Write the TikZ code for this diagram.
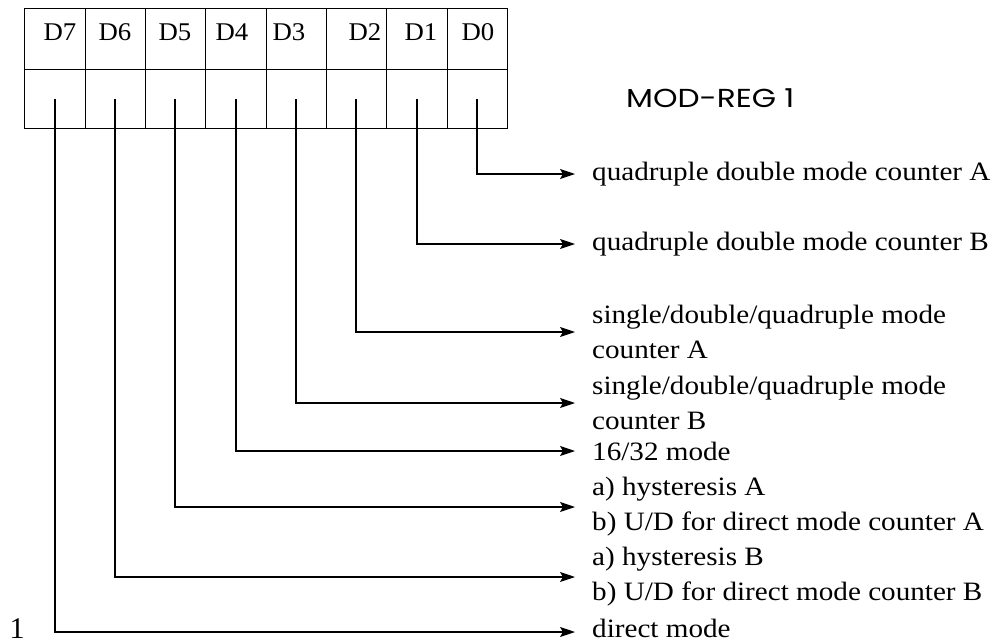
\documentclass[tikz,border=0pt]{standalone}
\usepackage{fontspec}
\setmainfont{Liberation Serif}
\newfontfamily\regfont{Poppins}
\usetikzlibrary{arrows.meta}
\tikzset{
  wire/.style={line width=1.1pt},
  arr/.style={wire,-{Stealth[length=15pt,width=10pt,inset=3pt]}},
  reglbl/.style={anchor=base,inner sep=0pt,xscale=1.05,font=\fontsize{25.5}{30}\selectfont},
  desc/.style={anchor=west,inner sep=0pt,xscale=1.1,align=left,font=\fontsize{26.5}{35}\selectfont},
}
\begin{document}
\begin{tikzpicture}[x=1pt,y=-1pt]
\useasboundingbox[fill=white] (0,0) rectangle (997,643);
% register
\draw[line width=0.9pt] (24,8) rectangle (507,128);
\draw[line width=0.9pt] (24,69) -- (507,69);
\foreach \x in {85,145,205,266,326,386,447}{\draw[line width=0.9pt] (\x,8) -- (\x,128);}
\node[reglbl] (r7) at (60,40) {D7};
\node[reglbl] (r6) at (115,40) {D6};
\node[reglbl] (r5) at (175,40) {D5};
\node[reglbl] (r4) at (232,40) {D4};
\node[reglbl] (r3) at (289,40) {D3};
\node[reglbl] (r2) at (365,40) {D2};
\node[reglbl] (r1) at (421,40) {D1};
\node[reglbl] (r0) at (478,40) {D0};
% bit line starts
\coordinate (b7) at (55,99);
\coordinate (b6) at (115,99);
\coordinate (b5) at (175,99);
\coordinate (b4) at (236,99);
\coordinate (b3) at (296,99);
\coordinate (b2) at (356,99);
\coordinate (b1) at (417,99);
\coordinate (b0) at (477,99);
% title
\node[anchor=base west,inner sep=0pt,xscale=1.2,font=\regfont\fontsize{26}{30}\selectfont] (title) at (626,107) {MOD-REG 1};
% descriptions
\node[desc] (l0) at (592,174) {quadruple double mode counter A};
\node[desc] (l1) at (592,244) {quadruple double mode counter B};
\node[desc] (l2) at (592,332) {single/double/quadruple mode\\counter A};
\node[desc] (l3) at (592,403) {single/double/quadruple mode\\counter B};
\node[desc] (l4) at (592,451) {16/32 mode};
\node[desc] (l5) at (592,507) {a) hysteresis A\\b) U/D for direct mode counter A};
\node[desc] (l6) at (592,577) {a) hysteresis B\\b) U/D for direct mode counter B};
\node[anchor=base west,inner sep=0pt,xscale=1.1,font=\fontsize{26.5}{35}\selectfont] (l7) at (592,637) {direct mode};
\node[anchor=base,inner sep=0pt,font=\fontsize{30}{32}\selectfont] (one) at (17,638) {1};
% connectors
\draw[arr] (b0) |- ([xshift=-17pt]l0.west);
\draw[arr] (b1) |- ([xshift=-17pt]l1.west);
\draw[arr] (b2) |- ([xshift=-17pt]l2.west);
\draw[arr] (b3) |- ([xshift=-17pt]l3.west);
\draw[arr] (b4) |- ([xshift=-17pt]l4.west);
\draw[arr] (b5) |- ([xshift=-17pt]l5.west);
\draw[arr] (b6) |- ([xshift=-17pt]l6.west);
\draw[arr] (b7) |- ([shift={(-17pt,5pt)}]l7.base west);
\end{tikzpicture}
\end{document}
